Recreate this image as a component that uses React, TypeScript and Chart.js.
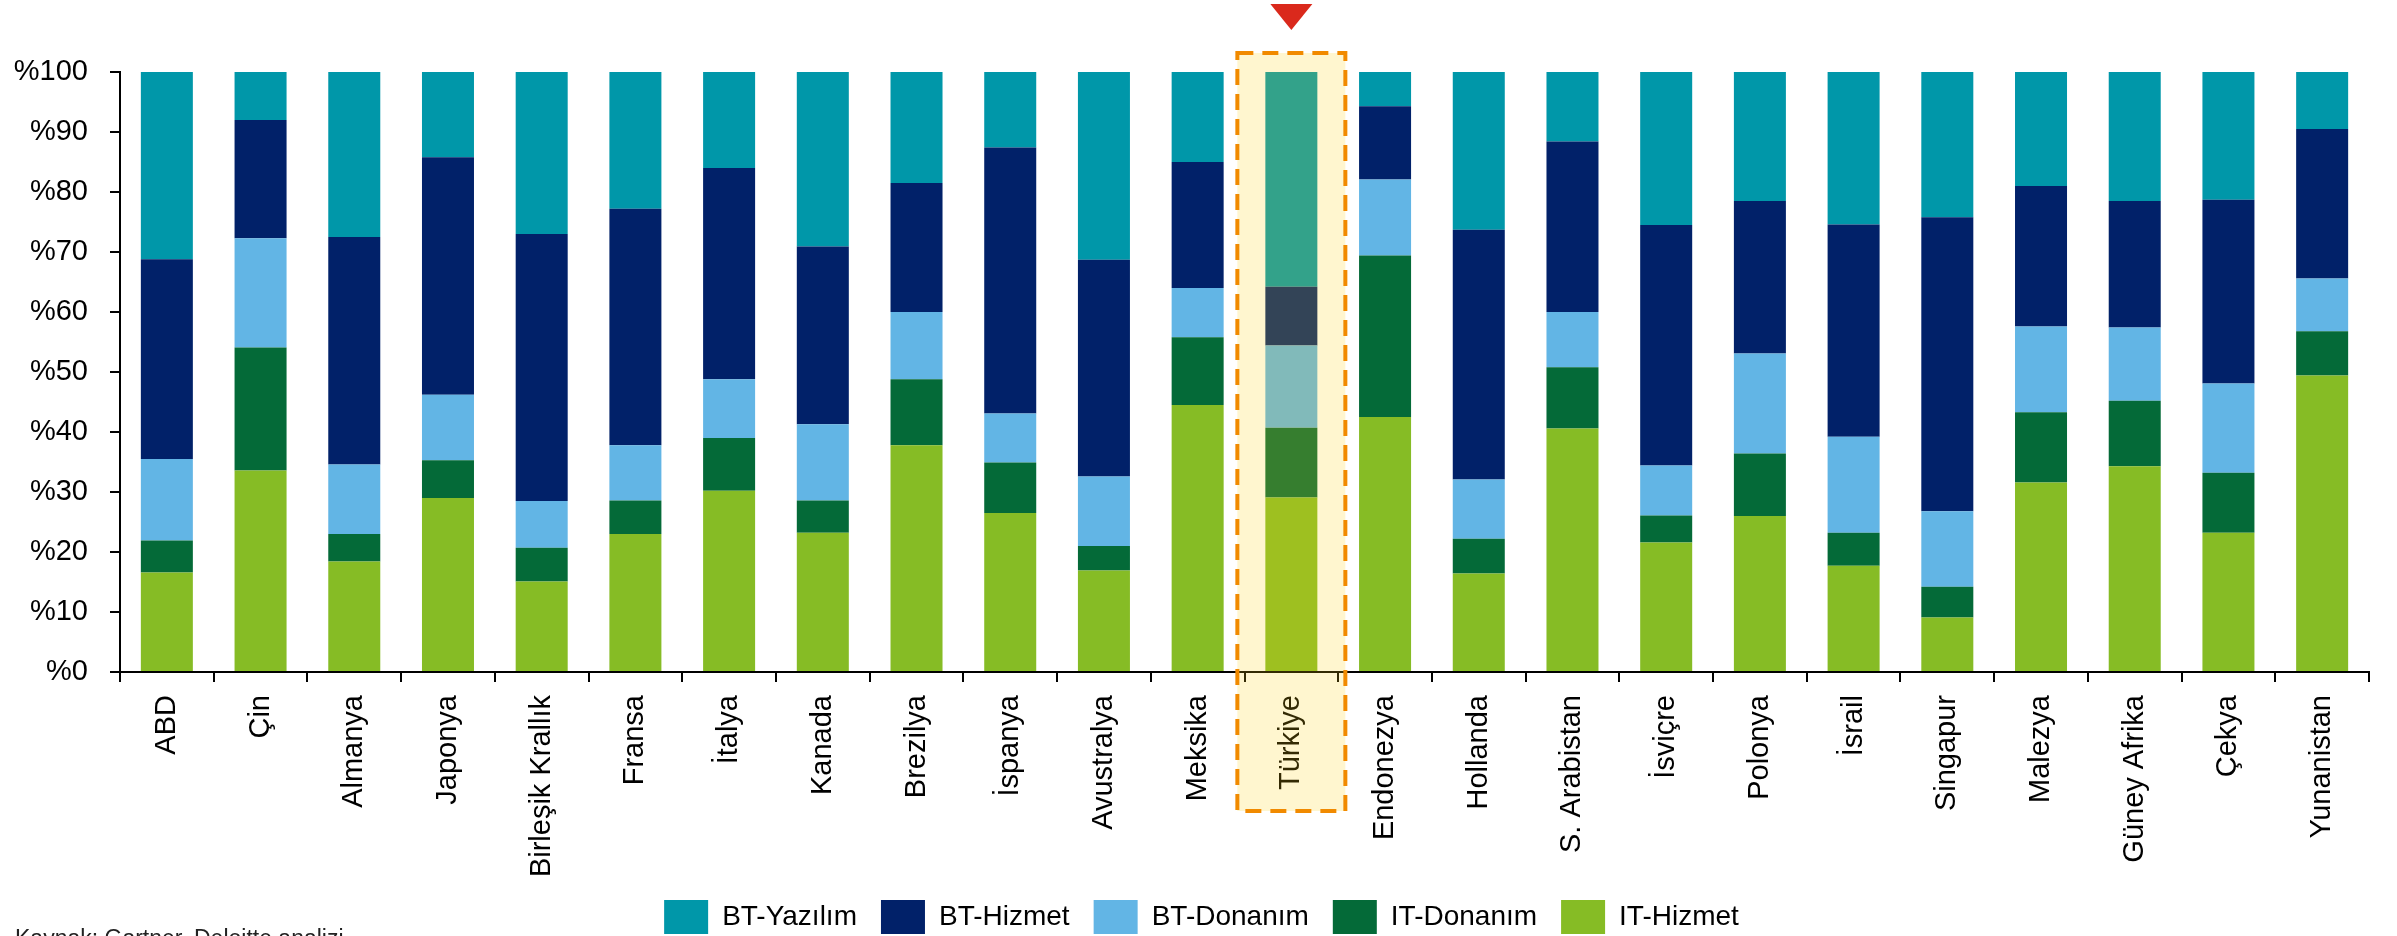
import React, { useEffect, useRef } from 'react';
import { Chart, registerables } from 'chart.js';

Chart.register(...registerables);

const categories = [
  'ABD', 'Çin', 'Almanya', 'Japonya', 'Birleşik Krallık', 'Fransa', 'İtalya', 'Kanada',
  'Brezilya', 'İspanya', 'Avustralya', 'Meksika', 'Türkiye', 'Endonezya', 'Hollanda',
  'S. Arabistan', 'İsviçre', 'Polonya', 'İsrail', 'Singapur', 'Malezya', 'Güney Afrika',
  'Çekya', 'Yunanistan',
];

const itHizmet = [16.6, 33.6, 18.4, 29.0, 15.1, 23.0, 30.2, 23.2, 37.8, 26.5, 16.9, 44.5, 29.1, 42.5, 16.4, 40.6, 21.6, 26.0, 17.7, 9.1, 31.6, 34.3, 23.2, 49.4];
const itDonanim = [5.3, 20.5, 4.6, 6.3, 5.6, 5.6, 8.8, 5.4, 11.0, 8.4, 4.1, 11.3, 11.6, 26.9, 5.8, 10.2, 4.5, 10.4, 5.5, 5.1, 11.7, 10.9, 10.0, 7.4];
const btDonanim = [13.6, 18.2, 11.6, 10.9, 7.8, 9.2, 9.8, 12.7, 11.2, 8.2, 11.6, 8.2, 13.7, 12.7, 9.9, 9.2, 8.3, 16.7, 16.0, 12.6, 14.3, 12.2, 14.9, 8.8];
const btHizmet = [33.3, 19.7, 37.9, 39.6, 44.5, 39.4, 35.2, 29.6, 21.5, 44.3, 36.1, 21.0, 9.8, 12.2, 41.6, 28.4, 40.1, 25.4, 35.4, 49.0, 23.4, 21.1, 30.6, 24.9];
const btYazilim = [31.2, 8.0, 27.5, 14.2, 27.0, 22.8, 16.0, 29.1, 18.5, 12.6, 31.3, 15.0, 35.8, 5.7, 26.3, 11.6, 25.5, 21.5, 25.4, 24.2, 19.0, 21.5, 21.3, 9.5];

const yTicks = [0, 10, 20, 30, 40, 50, 60, 70, 80, 90, 100];
const highlightCategory = 'Türkiye';
const sourceText = 'Kaynak: Gartner, Deloitte analizi';

const FONT = '"Liberation Sans", Arial, Helvetica, sans-serif';

export default function App() {
  const ref = useRef<HTMLCanvasElement>(null);

  useEffect(() => {
    const canvas = ref.current;
    if (!canvas) return;

    const highlightPlugin = {
      id: 'highlightPlugin',
      afterLayout(chart: any) {
        // nudge the centred legend to match the reference placement
        if (chart.legend) {
          chart.legend.left += 17;
          chart.legend.right += 17;
        }
      },
      afterDraw(chart: any) {
        const { ctx, scales, chartArea } = chart;
        const x = scales.x;
        const y = scales.y;
        const idx = categories.indexOf(highlightCategory);
        const cx = x.getPixelForValue(idx);
        const half = 54;
        const top = y.getPixelForValue(100) - 19;
        const bottom = chartArea.bottom + 139;
        ctx.save();
        ctx.fillStyle = 'rgba(255, 211, 14, 0.2)';
        ctx.fillRect(cx - half, top, half * 2, bottom - top);
        ctx.setLineDash([16, 9]);
        ctx.lineWidth = 4;
        ctx.strokeStyle = '#F18A00';
        ctx.strokeRect(cx - half, top, half * 2, bottom - top);
        ctx.setLineDash([]);
        // red marker triangle
        ctx.fillStyle = '#DA291C';
        ctx.beginPath();
        ctx.moveTo(cx - 21, top - 49);
        ctx.lineTo(cx + 21, top - 49);
        ctx.lineTo(cx, top - 23);
        ctx.closePath();
        ctx.fill();
        // source note
        ctx.fillStyle = '#222';
        ctx.font = `23px ${FONT}`;
        ctx.textAlign = 'left';
        ctx.textBaseline = 'alphabetic';
        ctx.fillText(sourceText, 15, 946);
        ctx.restore();
      },
    };

    const common = { barPercentage: 0.555, categoryPercentage: 1.0, borderWidth: 0 };

    const chart = new Chart(canvas, {
      type: 'bar',
      data: {
        labels: categories,
        datasets: [
          { label: 'IT-Hizmet', data: itHizmet, backgroundColor: '#86BC25', ...common },
          { label: 'IT-Donanım', data: itDonanim, backgroundColor: '#046A38', ...common },
          { label: 'BT-Donanım', data: btDonanim, backgroundColor: '#62B5E5', ...common },
          { label: 'BT-Hizmet', data: btHizmet, backgroundColor: '#012169', ...common },
          { label: 'BT-Yazılım', data: btYazilim, backgroundColor: '#0097A9', ...common },
        ],
      },
      options: {
        responsive: true,
        maintainAspectRatio: false,
        animation: false,
        layout: { padding: { top: 72, left: 0, right: 28, bottom: 16 } },
        plugins: {
          legend: {
            position: 'bottom',
            reverse: true,
            labels: {
              boxWidth: 44,
              boxHeight: 34,
              padding: 24,
              color: '#000',
              font: { size: 28, family: FONT },
            },
          },
          tooltip: { enabled: false },
        },
        scales: {
          x: {
            stacked: true,
            grid: {
              display: true,
              offset: true,
              drawOnChartArea: false,
              drawTicks: true,
              tickLength: 10,
              color: '#000',
              lineWidth: 2,
            },
            border: { display: true, color: '#000', width: 2 },
            ticks: {
              autoSkip: false,
              maxRotation: 90,
              minRotation: 90,
              padding: 13,
              color: '#000',
              font: { size: 29, family: FONT },
            },
            afterFit: (s: any) => { s.height = 204; },
          },
          y: {
            stacked: true,
            min: 0,
            max: 100,
            afterBuildTicks: (s: any) => { s.ticks = yTicks.map((v) => ({ value: v })); },
            ticks: {
              padding: 22,
              color: '#000',
              font: { size: 29, family: FONT },
              callback: (v: any) => '%' + v,
            },
            grid: {
              drawOnChartArea: false,
              drawTicks: true,
              tickLength: 10,
              color: '#000',
              lineWidth: 2,
            },
            border: { display: true, color: '#000', width: 2 },
            afterFit: (s: any) => { s.width = 120; },
          },
        },
      },
      plugins: [highlightPlugin],
    } as any);

    return () => chart.destroy();
  }, []);

  return (
    <div style={{ position: 'fixed', left: 0, top: 0, width: 2397, height: 936, overflow: 'hidden', background: '#fff' }}>
      <div style={{ position: 'relative', width: 2397, height: 960 }}>
        <canvas ref={ref} />
      </div>
    </div>
  );
}
